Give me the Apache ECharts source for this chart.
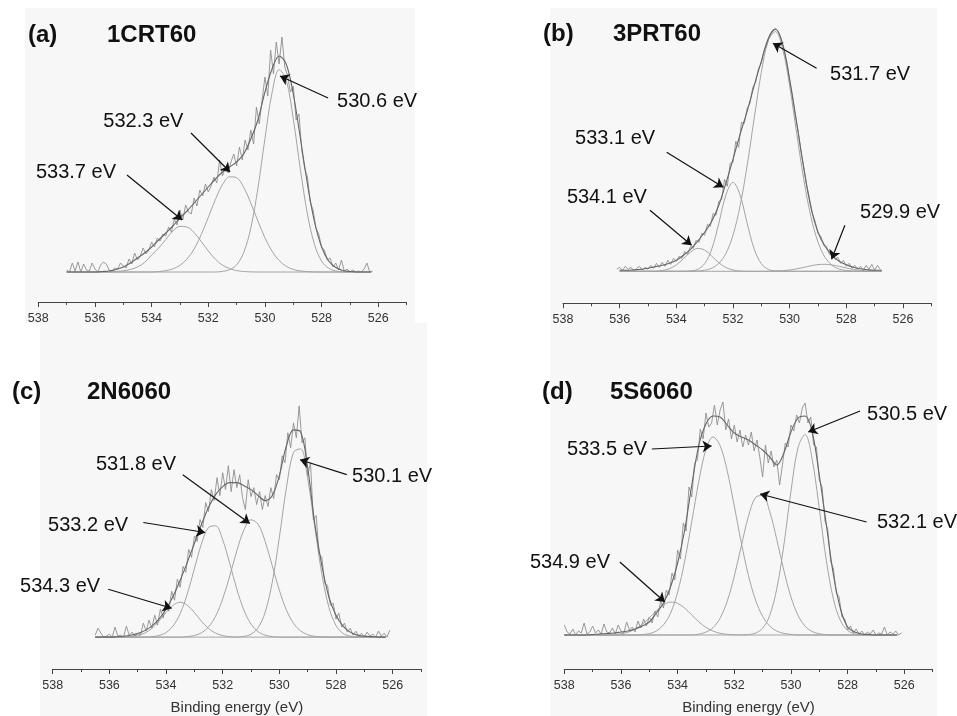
<!DOCTYPE html>
<html>
<head>
<meta charset="utf-8">
<title>O 1s XPS</title>
<script src="https://cdn.jsdelivr.net/npm/echarts@6/dist/echarts.min.js"></script>
<style>
  html, body { margin: 0; padding: 0; background: #fff; }
  #chart { width: 957px; height: 716px; }
</style>
</head>
<body>
<div id="chart"></div>
<script>
// x axis ticks (binding energy, eV)
var tickMajor = [526, 528, 530, 532, 534, 536, 538];
var tickMinor = [525, 527, 529, 531, 533, 535, 537];

// ---- (a) 1CRT60 ----
var rawStartA = 537.0;   // raw spectrum, 0.1 eV step
var rawA = [2,0,9,1,10,0,8,2,1,9, 3,0,7,10,8,2,1,4,3,9, 6,4,13,8,19,12,16,24,18,22,
  30,25,34,31,38,36,45,40,53,47, 62,52,67,60,58,74,66,82,76,88, 80,86,95,89,112,96,104,99,110,118,
  106,125,112,132,122,142,128,165,148,172, 195,176,222,198,230,208,235,205,196,180,
  186,152,158,122,104,95,70,62,44,38, 25,22,12,14,5,9,2,12,1,3, 0,2,0,1,0,3,9,0,1];
var fitStartA = 537.0;   // fitted curves, 0.25 eV step
var envA = [0,0,0,0,0,0.5,1,2.5,5,9,14,19,25,32,39,46,54,61,69,77,85,93,100,105,110,118,133,152,180,203,216,208,178,134,88,50,25,11,4.5,1.5,0.5,0,0,0];
var compA1 = [0,0,0,0,0,0,0.1,0.5,1.2,2.5,5,9.5,17,24,32.5,40.9,45.6,45,39.4,30.6,21.1,12.8,6.9,3.4,1.4,0.5,0.1,0,0,0,0,0,0,0,0,0,0,0,0,0,0,0,0,0];
var compA2 = [0,0,0,0,0,0,0,0,0,0,0,0,0,0.5,1.3,3.1,6.7,13,23,37.3,54.6,72.5,87.3,95.2,94.3,84.7,69,51,34.2,20.8,11.5,5.7,2.6,1.1,0.4,0.1,0,0,0,0,0,0,0,0];
var compA3 = [0,0,0,0,0,0,0,0,0,0,0,0,0,0,0,0,0,0,0,0,0,0,0.6,2.3,7.2,19.4,43.9,83.5,133.4,179.1,202.3,192.1,153.2,102.7,57.9,27.5,10.9,3.7,1.0,0.2,0,0,0,0];
var labelsA = ['533.7 eV', '532.3 eV', '530.6 eV'];
var labelPosA = [[536.67, 100], [534.29, 151], [526.04, 171]];
var arrowsA = [[[534.87, 97], [532.92, 52]], [[532.61, 139], [531.23, 100]], [[527.77, 174], [529.47, 196]]];

// ---- (b) 3PRT60 ----
var rawStartB = 536.1;
var rawB = [2,4,1,5,2,4,0,3,5,1, 4,2,6,3,8,4,9,5,11,7, 13,10,15,13,20,17,25,23,31,29,
  38,36,47,45,58,56,70,72,92,85, 108,109,130,124,149,148,163,168,184,189,
  203,208,221,227,237,241,243,240,232,221, 209,191,175,156,140,120,104,86,73,58,
  50,38,35,26,25,17,18,12,14,8, 11,5,8,3,6,2,5,1,6,2, 7,1,6,2];
var fitStartB = 536.0;
var envB = [1,1,1.5,2,3,4.5,6,8,11,16,22,30,39,50,66,88,112,137,160,186,210,233,242,228,192,148,103,64,39,25,16,10,6.5,4,2.5,1.5,1,1];
var compB1 = [0,0,0,0,0,0,0.8,2.5,6.4,12.6,19.2,22.9,21.2,15.3,8.6,3.8,1.3,0.3,0,0,0,0,0,0,0,0,0,0,0,0,0,0,0,0,0,0,0,0];
var compB2 = [0,0,0,0,0,0,0,0,0,0,0.4,1.9,7.6,22.2,48,76.3,89,76.3,48,22.2,7.6,1.9,0.4,0,0,0,0,0,0,0,0,0,0,0,0,0,0,0];
var compB3 = [0,0,0,0,0,0,0,0,0,0,0,0.3,1.1,3.1,8,17.8,36.1,65.3,105.8,153.3,198.9,230.9,239.7,222.7,185.3,137.8,91.7,54.6,29.2,13.9,5.9,2.2,0.8,0.2,0,0,0,0];
var compB4 = [0,0,0,0,0,0,0,0,0,0,0,0,0,0,0,0,0,0,0,0,0,0,0.2,0.6,1.3,2.4,3.9,5.5,6.7,7,6.3,4.9,3.3,1.9,0.9,0.4,0.2,0];
var labelsB = ['531.7 eV', '533.1 eV', '534.1 eV', '529.9 eV'];
var labelPosB = [[527.16, 197], [536.16, 133], [536.45, 74], [526.1, 59]];
var arrowsB = [[[529.05, 203], [530.59, 228]], [[534.34, 119], [532.34, 84]], [[534.93, 61], [533.46, 26]], [[528.05, 46], [528.52, 12]]];

// ---- (c) 2N6060 ----
var rawStartC = 536.5;
var rawC = [2,9,4,0,1,3,0,10,1,2, 0,11,2,5,1,4,2,14,6,17, 9,22,12,28,19,35,26,46,37,58,
  50,71,65,88,80,101,96,118,110,135, 126,148,137,160,142,165,148,172,146,168,
  150,163,140,128,158,141,150,133,146,128, 142,131,150,139,163,158,182,175,205,190,
  215,200,232,195,200,162,175,118,122,84, 80,54,52,32,34,18,24,10,14,5,
  9,2,6,1,4,0,5,1,3,0, 6,1,4,0,7];
var fitStartC = 536.5;
var envC = [0,0,0,0.3,0.8,1.8,3.5,6.5,11,18,28,41,57,75,94,113,130,143,151,155,155,152,148,142,137,142,162,192,208,206,170,114,72,40,22,11,5,2,1,0.5,0,0];
var compC1 = [0,0,0,0,0,0.5,1.5,4,8.7,16,24.7,32,35,32,24.7,16,8.7,4,1.5,0.5,0,0,0,0,0,0,0,0,0,0,0,0,0,0,0,0,0,0,0,0,0,0];
var compC2 = [0,0,0,0,0,0,0,0,0.4,1.6,4.5,11.2,23.6,43.3,68.5,93.5,110,111.7,97.7,73.8,48,27,13,5.4,2,0.6,0,0,0,0,0,0,0,0,0,0,0,0,0,0,0,0];
var compC3 = [0,0,0,0,0,0,0,0,0,0,0,0,0,0.5,1.6,4.3,10.2,21,38.3,61.4,86.6,107.6,117.7,113.3,95.9,71.6,47,27.2,13.8,6.2,2.4,0.8,0.3,0,0,0,0,0,0,0,0,0];
var compC4 = [0,0,0,0,0,0,0,0,0,0,0,0,0,0,0,0,0,0,0,0,0,0.8,2.9,9.4,25,55,100,150,185.4,189,159,110.5,63.3,29.8,11.6,3.7,1,0.2,0,0,0,0];
var labelsC = ['531.8 eV', '530.1 eV', '533.2 eV', '534.3 eV'];
var labelPosC = [[535.06, 173], [526.02, 161], [536.75, 112], [537.74, 51]];
var arrowsC = [[[533.41, 163], [531.04, 114]], [[527.62, 163], [529.27, 178]], [[534.8, 115], [532.62, 105]], [[536.04, 48], [533.8, 29]]];

// ---- (d) 5S6060 ----
var rawStartD = 538.0;
var rawD = [10,3,1,6,0,4,2,12,1,3, 9,2,5,1,11,3,2,7,1,10, 4,2,13,5,8,3,14,7,16,9,
  18,12,24,18,34,27,45,40,62,55, 85,76,112,104,148,138,172,175,206,196,
  222,208,212,230,210,225,233,205,216,196, 210,193,205,188,200,190,203,184,195,178,
  158,190,172,184,168,175,150,170,192,188, 210,204,220,212,227,232,212,218,190,188,
  155,148,114,106,74,66,42,38,18,16, 5,9,2,6,1,4,0,3,1,5, 0,2,1,8,0,3,1,4,0,2];
var fitStartD = 538.0;
var envD = [0,0,0,0,0.5,1,1.5,2,3,4,6,9,13,22,32,48,72,105,150,190,211,219,218,210,202,198,195,190,185,178,170,182,203,217,219,203,160,110,60,26,8,3,1,0.5,0,0,0,0];
var compD1 = [0,0,0,0,0,0,0,0.5,1.2,2.8,5.9,10.7,17.2,24.2,30.1,32.9,31.7,26.8,20,13.1,7.6,3.9,1.7,0.7,0.2,0,0,0,0,0,0,0,0,0,0,0,0,0,0,0,0,0,0,0,0,0,0,0];
var compD2 = [0,0,0,0,0,0,0,0,0,0,0,0.4,1.4,4,10.1,21.8,42.8,74,113.5,154,185.5,198,189.3,164.2,129,92,59.6,34.9,18.7,8.9,3.9,1.6,0.6,0,0,0,0,0,0,0,0,0,0,0,0,0,0,0];
var compD3 = [0,0,0,0,0,0,0,0,0,0,0,0,0,0,0,0,0,0,0,0.8,2.9,7.4,16.9,33.8,58.9,89.3,118.6,137.6,139.5,123.5,95.6,64.5,38.1,19.6,8.9,3.5,1.2,0.4,0,0,0,0,0,0,0,0,0,0];
var compD4 = [0,0,0,0,0,0,0,0,0,0,0,0,0,0,0,0,0,0,0,0,0,0,0,0,0,0,0.4,1.9,6.7,19.5,46.3,90,143.5,187.3,200.4,175.7,126.3,74.4,35.8,14.2,4.6,1.2,0.3,0,0,0,0,0];
var labelsD = ['530.5 eV', '533.5 eV', '532.1 eV', '534.9 eV'];
var labelPosD = [[525.9, 221], [536.49, 186], [525.55, 113], [537.8, 73]];
var arrowsD = [[[527.56, 224], [529.39, 203]], [[534.91, 186], [532.8, 189]], [[527.33, 113], [531.09, 141]], [[536.04, 73], [534.45, 33]]];

// pair values with their energy grid
function pairs(start, step, vals) {
  return vals.map(function (v, i) { return [+(start - i * step).toFixed(2), v]; });
}

var panels = [
  { grid: { left: 38.3, top: 20, width: 368.3, height: 282 }, ymin: -30, ymax: 252,
    raw: pairs(rawStartA, 0.1, rawA), fitStart: fitStartA, env: envA, comps: [compA1, compA2, compA3],
    labels: labelsA, labelPos: labelPosA, arrows: arrowsA, axisName: '' },
  { grid: { left: 563, top: 20, width: 368.3, height: 283.3 }, ymin: -32, ymax: 251.3,
    raw: pairs(rawStartB, 0.1, rawB), fitStart: fitStartB, env: envB, comps: [compB1, compB2, compB3, compB4],
    labels: labelsB, labelPos: labelPosB, arrows: arrowsB, axisName: '' },
  { grid: { left: 52.7, top: 380, width: 368.3, height: 290 }, ymin: -32, ymax: 258,
    raw: pairs(rawStartC, 0.1, rawC), fitStart: fitStartC, env: envC, comps: [compC1, compC2, compC3, compC4],
    labels: labelsC, labelPos: labelPosC, arrows: arrowsC, axisName: 'Binding energy (eV)' },
  { grid: { left: 564.3, top: 380, width: 368.3, height: 289 }, ymin: -34, ymax: 255,
    raw: pairs(rawStartD, 0.1, rawD), fitStart: fitStartD, env: envD, comps: [compD1, compD2, compD3, compD4],
    labels: labelsD, labelPos: labelPosD, arrows: arrowsD, axisName: 'Binding energy (eV)' }
];

var FONT = '"Liberation Sans", Arial, sans-serif';
var grids = [], xAxes = [], yAxes = [], series = [];

panels.forEach(function (p, k) {
  grids.push(p.grid);
  // main axis with long ticks + labels at even values
  xAxes.push({
    type: 'value', gridIndex: k, inverse: true, min: 525, max: 538, interval: 1, position: 'bottom',
    axisLine: { show: true, onZero: false, lineStyle: { color: '#444', width: 1 } },
    axisTick: { show: true, customValues: tickMajor, length: 5, lineStyle: { color: '#444' } },
    axisLabel: { customValues: tickMajor, margin: 10, fontSize: 12.5, color: '#333', fontFamily: FONT },
    splitLine: { show: false },
    name: p.axisName, nameLocation: 'middle', nameGap: 31,
    nameTextStyle: { fontSize: 15, color: '#333', fontFamily: FONT }
  });
  // short ticks at odd values
  xAxes.push({
    type: 'value', gridIndex: k, inverse: true, min: 525, max: 538, interval: 1, position: 'bottom',
    axisLine: { show: false, onZero: false },
    axisTick: { show: true, customValues: tickMinor, length: 3, lineStyle: { color: '#444' } },
    axisLabel: { show: false }, splitLine: { show: false }
  });
  yAxes.push({ type: 'value', gridIndex: k, min: p.ymin, max: p.ymax, show: false });

  var xi = k * 2;
  p.comps.forEach(function (c) {
    series.push({
      type: 'line', xAxisIndex: xi, yAxisIndex: k, data: pairs(p.fitStart, 0.25, c),
      showSymbol: false, smooth: 0.35, silent: true,
      lineStyle: { color: '#a4a4a4', width: 1 }, z: 2
    });
  });
  series.push({
    type: 'line', xAxisIndex: xi, yAxisIndex: k, data: p.raw,
    showSymbol: false, silent: true,
    lineStyle: { color: '#8e8e8e', width: 0.9 }, z: 3
  });
  series.push({
    type: 'line', xAxisIndex: xi, yAxisIndex: k, data: pairs(p.fitStart, 0.25, p.env),
    showSymbol: false, smooth: 0.35, silent: true,
    lineStyle: { color: '#666', width: 1.1 }, z: 4
  });
  // peak labels + arrows
  series.push({
    type: 'scatter', xAxisIndex: xi, yAxisIndex: k, silent: true, symbolSize: 1,
    itemStyle: { color: 'rgba(0,0,0,0)', opacity: 1 }, z: 6,
    data: p.labels.map(function (t, i) { return { name: t, value: p.labelPos[i] }; }),
    label: { show: true, position: 'inside', formatter: '{b}', fontSize: 20, color: '#111', opacity: 1, fontFamily: FONT },
    markLine: {
      silent: true, symbol: ['none', 'arrow'], symbolSize: 9, animation: false,
      label: { show: false },
      lineStyle: { color: '#111', width: 1.2, type: 'solid', opacity: 1 },
      data: p.arrows.map(function (a) { return [{ coord: a[0] }, { coord: a[1] }]; })
    }
  });
});

function txt(x, y, s, bold) {
  return { type: 'text', left: x, top: y, z: 100,
    style: { text: s, fill: '#111', font: (bold ? 'bold ' : '') + '24px ' + FONT } };
}

var myChart = echarts.init(document.getElementById('chart'));
myChart.setOption({
  backgroundColor: '#ffffff',
  animation: false,
  graphic: [
    { type: 'rect', shape: { x: 25, y: 8, width: 390, height: 315 }, style: { fill: '#f7f7f7' }, z: -10 },
    { type: 'rect', shape: { x: 40, y: 323, width: 387, height: 393 }, style: { fill: '#f7f7f7' }, z: -10 },
    { type: 'rect', shape: { x: 550, y: 8, width: 387, height: 708 }, style: { fill: '#f7f7f7' }, z: -10 },
    txt(28, 23, '(a)', true), txt(107, 23, '1CRT60', true),
    txt(543, 22, '(b)', true), txt(613, 22, '3PRT60', true),
    txt(12, 380, '(c)', true), txt(87, 380, '2N6060', true),
    txt(542, 380, '(d)', true), txt(610, 380, '5S6060', true)
  ],
  grid: grids,
  xAxis: xAxes,
  yAxis: yAxes,
  series: series
});
</script>
</body>
</html>
